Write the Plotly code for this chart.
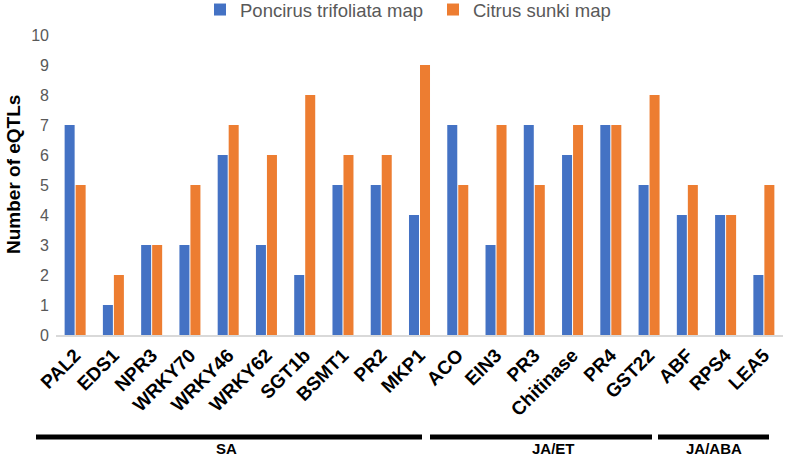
import plotly.graph_objects as go

genes = ["PAL2", "EDS1", "NPR3", "WRKY70", "WRKY46", "WRKY62", "SGT1b", "BSMT1", "PR2", "MKP1",
         "ACO", "EIN3", "PR3", "Chitinase", "PR4", "GST22", "ABF", "RPS4", "LEA5"]
poncirus = [7, 1, 3, 3, 6, 3, 2, 5, 5, 4, 7, 3, 7, 6, 7, 5, 4, 4, 2]
citrus = [5, 2, 3, 5, 7, 6, 8, 6, 6, 9, 5, 7, 5, 7, 7, 8, 5, 4, 5]
series_names = ["Poncirus trifoliata map", "Citrus sunki map"]
y_ticks = list(range(0, 11))
groups = ["SA", "JA/ET", "JA/ABA"]

W, H = 787, 458
ML, MR, MT, MB = 56, 4, 35, 123
PW = W - ML - MR
PH = H - MT - MB


def px(xp):
    return (xp - ML) / PW


def py(yp):
    return (H - MB - yp) / PH


fig = go.Figure()
fig.add_trace(go.Bar(x=genes, y=poncirus, name=series_names[0], marker_color="#4472C4",
                     marker_line_width=0))
fig.add_trace(go.Bar(x=genes, y=citrus, name=series_names[1], marker_color="#ED7D31",
                     marker_line_width=0))

# group bars and labels (pixel positions converted to paper coordinates)
group_spans = [(36, 422), (430, 652), (658, 769)]
group_centers = [226, 553, 714]
for (x0, x1), xc, g in zip(group_spans, group_centers, groups):
    fig.add_shape(type="line", xref="paper", yref="paper",
                  x0=px(x0), x1=px(x1), y0=py(437), y1=py(437),
                  line=dict(color="black", width=5))
    fig.add_annotation(text=g, xref="paper", yref="paper", x=px(xc), y=py(449),
                       xanchor="center", yanchor="middle", showarrow=False,
                       font=dict(family="Arial, Liberation Sans", size=15, color="black", weight="bold"))

fig.add_annotation(text="Number of eQTLs", xref="paper", yref="paper",
                   x=px(13), y=py(175), xanchor="center", yanchor="middle",
                   textangle=-90, showarrow=False,
                   font=dict(family="Arial, Liberation Sans", size=19, color="black", weight="bold"))

fig.update_layout(
    width=W, height=H,
    margin=dict(l=ML, r=MR, t=MT, b=MB, pad=0, autoexpand=False),
    plot_bgcolor="white", paper_bgcolor="white",
    barmode="group", bargap=0.425, bargroupgap=0.09,
    showlegend=True,
    legend=dict(orientation="h", x=px(200), y=py(10), xanchor="left", yanchor="middle",
                font=dict(family="Arial, Liberation Sans", size=18.5, color="#595959"),
                itemwidth=30, entrywidth=188, entrywidthmode="pixels",
                bgcolor="rgba(0,0,0,0)"),
    xaxis=dict(showline=True, linecolor="#D9D9D9", linewidth=1.5, ticks="",
               tickangle=-45, showgrid=False, automargin=False,
               tickfont=dict(family="Arial, Liberation Sans", size=19, color="black", weight="bold")),
    yaxis=dict(range=[0, 10], tickvals=y_ticks, showgrid=False, zeroline=False, showline=False,
               ticks="", ticklabelstandoff=6, automargin=False,
               tickfont=dict(family="Arial, Liberation Sans", size=16, color="#595959")),
)

fig.write_html("out.html", config={"displayModeBar": False},
               post_script="document.body.style.margin='0';document.body.style.padding='0';")
